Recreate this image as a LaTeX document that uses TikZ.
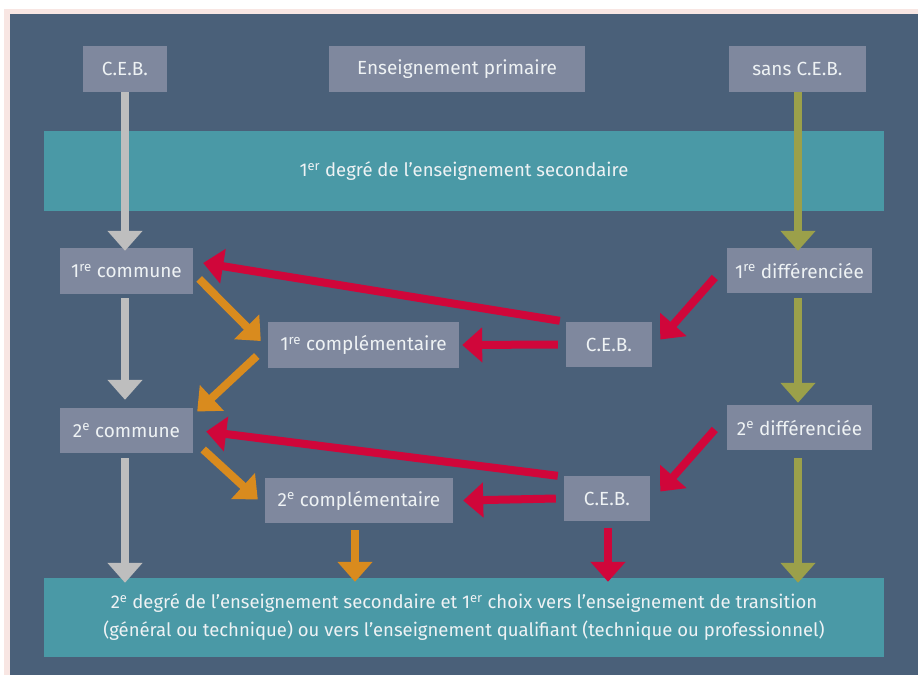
\documentclass[tikz,border=0pt]{standalone}
\usepackage{fontspec}
\setmainfont{Fira Sans}
\usetikzlibrary{arrows.meta,calc}
\definecolor{panel}{HTML}{4A6079}
\definecolor{pinkb}{HTML}{F8E6E3}
\definecolor{boxc}{HTML}{7F889E}
\definecolor{tealc}{HTML}{4A99A6}
\definecolor{txt}{HTML}{EEF2F4}
\definecolor{grayar}{HTML}{BEBEBE}
\definecolor{olivear}{HTML}{9BA04A}
\definecolor{orangear}{HTML}{D98B1E}
\definecolor{redar}{HTML}{D0063A}
\begin{document}
\begin{tikzpicture}[x=1pt,y=-1pt,
  lbox/.style={fill=boxc,text=txt,inner sep=0pt,font=\fontsize{19}{22}\selectfont,anchor=center},
  band/.style={fill=tealc,text=txt,inner sep=0pt,minimum width=840pt,align=center,font=\fontsize{18.5}{28}\selectfont},
  arw/.style={line width=8pt,-{Triangle[width=34pt,length=20pt]}},
  grayarw/.style={arw,draw=grayar},
  olivearw/.style={arw,draw=olivear},
  orangearw/.style={arw,draw=orangear},
  redarw/.style={arw,draw=redar}]
\useasboundingbox (0,0) rectangle (918,675);
\fill[white] (0,0) rectangle (918,675);
\fill[pinkb] (4,9) rectangle (918,675);
\fill[panel] (10,14) rectangle (918,675);
% nodes
\node[lbox,minimum width=84pt,minimum height=46pt] (ceb0) at (125,69) {C.E.B.};
\node[lbox,minimum width=256pt,minimum height=46pt] (prim) at (457,69) {Enseignement primaire};
\node[lbox,minimum width=137pt,minimum height=46pt] (sans) at (797.5,69) {sans C.E.B.};
\node[band,minimum height=80pt] (band1) at (464,171) {1\textsuperscript{er} degré de l’enseignement secondaire};
\node[lbox,minimum width=133pt,minimum height=46pt] (com1) at (126.5,271) {1\textsuperscript{re} commune};
\node[lbox,minimum width=145pt,minimum height=45pt] (dif1) at (799.5,270.5) {1\textsuperscript{re} différenciée};
\node[lbox,minimum width=191pt,minimum height=46pt] (cpl1) at (363.5,345) {1\textsuperscript{re} complémentaire};
\node[lbox,minimum width=86pt,minimum height=45pt] (ceb1) at (609,344.5) {C.E.B.};
\node[lbox,minimum width=133pt,minimum height=45pt] (com2) at (126.5,430.5) {2\textsuperscript{e} commune};
\node[lbox,minimum width=145pt,minimum height=45pt] (dif2) at (799.5,427.5) {2\textsuperscript{e} différenciée};
\node[lbox,minimum width=188pt,minimum height=45pt] (cpl2) at (359,500.5) {2\textsuperscript{e} complémentaire};
\node[lbox,minimum width=86pt,minimum height=45pt] (ceb2) at (607,498.5) {C.E.B.};
\node[band,minimum height=79pt] (band2) at (464,617.5) {2\textsuperscript{e} degré de l’enseignement secondaire et 1\textsuperscript{er} choix vers l’enseignement de transition\\(général ou technique) ou vers l’enseignement qualifiant (technique ou professionnel)};
% gray arrows
\draw[grayarw] (ceb0.south) -- ([yshift=-3]com1.north -| ceb0.south);
\draw[grayarw] ([shift={(-1.5,4)}]com1.south) -- ([shift={(-1.5,-8)}]com2.north);
\draw[grayarw] ([shift={(-1.5,5)}]com2.south) -- ([xshift=-1.5,yshift=-5]com2.south |- band2.north);
% olive arrows
\draw[olivearw] ([xshift=0.5]sans.south) -- ([xshift=-1.5,yshift=-3]dif1.north);
\draw[olivearw] ([shift={(-1.5,5)}]dif1.south) -- ([shift={(-1.5,-2)}]dif2.north);
\draw[olivearw] ([shift={(-1.5,8)}]dif2.south) -- ([xshift=-1.5,yshift=-5]dif2.south |- band2.north);
% orange arrows
\draw[orangearw] ([shift={(6,8)}]com1.east) -- ([shift={(-7,-4)}]cpl1.west);
\draw[orangearw] ([shift={(-11,11)}]cpl1.west) -- ([shift={(4,-19)}]com2.east);
\draw[orangearw] ([shift={(10,19)}]com2.east) -- ([shift={(-7,-1)}]cpl2.west);
\draw[orangearw] ([shift={(-4,7)}]cpl2.south) -- ([xshift=-4,yshift=-4]cpl2.south |- band2.north);
% red arrows
\draw[redarw] ([shift={(-6,-1)}]ceb1.north west) -- ([shift={(10,-8)}]com1.east);
\draw[redarw] ([xshift=-8]ceb1.west) -- ([xshift=3]cpl1.east);
\draw[redarw] ([shift={(-12,7)}]dif1.west) -- ([shift={(8,-5)}]ceb1.east);
\draw[redarw] ([shift={(-6,0)}]ceb2.north west) -- ([shift={(13,1)}]com2.east);
\draw[redarw] ([xshift=-8]ceb2.west) -- ([xshift=10]cpl2.east);
\draw[redarw] ([shift={(-12,2)}]dif2.west) -- ([shift={(10,-7)}]ceb2.east);
\draw[redarw] ([shift={(1,7)}]ceb2.south) -- ([xshift=1,yshift=-4]ceb2.south |- band2.north);
\end{tikzpicture}
\end{document}
